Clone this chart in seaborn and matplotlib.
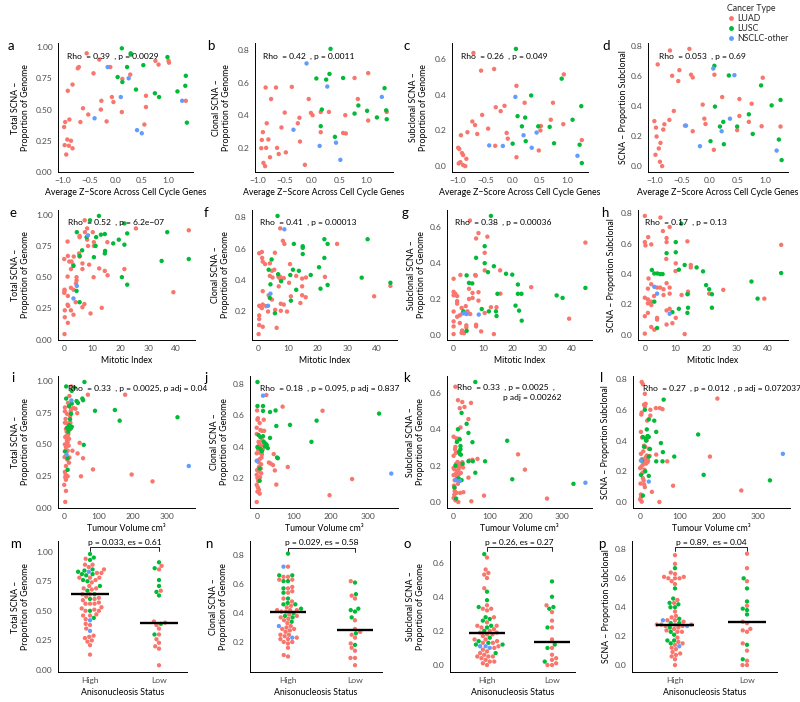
import numpy as np
import pandas as pd
import matplotlib
matplotlib.use("Agg")
import matplotlib.pyplot as plt
import matplotlib.transforms as mtransforms
from matplotlib.lines import Line2D
import seaborn as sns

# ---------------------------------------------------------------- data
TYPE_ORDER = ["LUAD", "LUSC", "NSCLC-other"]
PALETTE = {"LUAD": "#F8766D", "LUSC": "#00BA38", "NSCLC-other": "#619CFF"}

# Row 1: average z-score across cell cycle genes
a_luad_x = [-0.55,-0.70,-0.72,-0.31,-0.10,-0.42,-0.82,-0.91,0.13,0.28,0.76,0.82,1.01,1.02,1.34,-0.27,-0.07,-0.04,0.58,0.58,-0.28,-0.62,-0.52,-0.67,-0.17,0.12,0.55,-0.88,-0.96,-0.98,-0.92,-0.85,-0.89,-0.97,-0.82,-0.94]
a_luad_y = [0.95,0.84,0.83,0.90,0.84,0.79,0.70,0.65,0.745,0.78,0.89,0.86,0.89,0.875,0.57,0.57,0.60,0.56,0.61,0.52,0.50,0.51,0.46,0.40,0.405,0.48,0.38,0.42,0.40,0.36,0.26,0.25,0.21,0.215,0.19,0.14]
a_lusc_x = [0.12,0.29,0.29,0.99,0.22,0.53,0.04,0.13,0.39,0.75,0.83,1.18,1.34,1.33,1.36]
a_lusc_y = [0.99,0.95,0.94,0.92,0.84,0.855,0.76,0.72,0.66,0.63,0.60,0.645,0.77,0.69,0.395]
a_oth_x = [-0.15,0.25,0.10,-0.40,0.41,0.50,1.27]
a_oth_y = [0.84,0.75,0.60,0.43,0.335,0.31,0.57]

b_luad_x = [-0.85,-0.66,-0.37,-0.75,-0.50,-0.06,-0.02,0.01,-0.23,-0.26,0.16,0.31,0.61,0.78,1.03,0.84,1.03,1.37,-0.83,-0.56,-0.22,0.16,0.57,0.62,-0.92,-0.80,-0.90,-0.93,-0.84,-0.64,-0.61,-0.48,-0.77,-0.89,-0.86,-0.13]
b_luad_y = [0.571,0.571,0.575,0.50,0.416,0.50,0.414,0.40,0.384,0.35,0.42,0.42,0.40,0.63,0.66,0.50,0.367,0.42,0.35,0.324,0.237,0.295,0.29,0.287,0.247,0.25,0.295,0.196,0.198,0.198,0.16,0.17,0.14,0.105,0.085,0.093]
b_lusc_x = [0.34,0.08,0.26,0.32,0.57,1.33,0.85,0.18,0.78,1.01,1.36,1.37,1.19,0.16,0.42]
b_lusc_y = [0.81,0.627,0.62,0.655,0.63,0.567,0.46,0.435,0.41,0.427,0.43,0.375,0.386,0.332,0.266]
b_oth_x = [-0.10,0.28,1.28,-0.34,0.14,0.44,0.52]
b_oth_y = [0.72,0.577,0.513,0.31,0.21,0.23,0.124]

c_luad_x = [-0.72,-0.58,-0.34,0.07,-0.31,-0.15,-0.22,-0.56,0.22,0.74,0.94,0.93,0.70,-0.74,-0.69,-0.65,-0.83,-0.45,-0.11,-0.09,-0.95,0.52,0.51,0.48,0.07,-0.32,1.27,-1.0,-0.98,-0.93,-0.91,-0.85,-0.96,-0.99,-0.91,-0.87]
c_luad_y = [0.634,0.535,0.544,0.45,0.33,0.338,0.308,0.287,0.355,0.355,0.514,0.235,0.26,0.25,0.23,0.18,0.19,0.21,0.186,0.154,0.173,0.225,0.20,0.088,0.05,0.114,0.146,0.103,0.096,0.073,0.062,0.041,0.022,0.015,0.006,0.0]
c_lusc_x = [0.06,0.90,1.26,0.34,0.09,0.23,0.17,0.47,0.68,1.10,0.0,0.24,0.76,1.23,1.27]
c_lusc_y = [0.657,0.49,0.336,0.396,0.28,0.272,0.223,0.223,0.22,0.26,0.126,0.14,0.128,0.12,0.017]
c_oth_x = [0.05,0.20,0.44,-0.43,-0.18,0.35,1.19]
c_oth_y = [0.388,0.173,0.188,0.116,0.113,0.103,0.058]

d_luad_x = [-0.72,-0.37,-0.94,-0.68,-0.55,-0.57,-0.34,-0.31,0.08,0.95,-0.13,0.22,0.53,0.75,-0.10,-0.08,-0.65,-0.73,-1.0,-0.82,-0.97,-0.84,0.53,0.70,0.93,1.27,-0.45,-0.31,0.49,-0.96,0.07,-0.92,-0.89,-0.98,-0.90,-0.86]
d_luad_y = [0.767,0.778,0.675,0.60,0.637,0.565,0.607,0.589,0.607,0.587,0.409,0.459,0.446,0.415,0.316,0.281,0.367,0.308,0.30,0.279,0.257,0.244,0.334,0.295,0.266,0.264,0.27,0.233,0.24,0.198,0.11,0.119,0.156,0.077,0.031,0.002]
d_lusc_x = [0.08,0.34,0.92,1.27,1.11,0.09,0.70,0.18,0.49,0.24,0.77,0.01,0.25,1.24,1.29]
d_lusc_y = [0.666,0.602,0.536,0.44,0.404,0.396,0.345,0.264,0.264,0.295,0.215,0.167,0.147,0.178,0.042]
d_oth_x = [0.06,0.44,-0.43,0.36,0.21,-0.18,1.20]
d_oth_y = [0.648,0.604,0.27,0.316,0.233,0.134,0.105]

# Row 2: mitotic index  (x, y) pairs
e_luad = [(7.3,0.955),(8.2,0.89),(5.5,0.83),(5.5,0.82),(7.4,0.86),(10.2,0.86),(8.2,0.80),(10.6,0.78),(15.4,0.78),(25.6,0.89),(44.5,0.875),(1.2,0.785),(10.6,0.75),(8.5,0.75),(5.3,0.69),(5.5,0.665),(1.3,0.67),(3.4,0.665),(0,0.645),(1.8,0.625),(2.6,0.625),(6.5,0.61),(8.9,0.60),(3.2,0.60),(2.4,0.565),(6.5,0.565),(12.5,0.57),(21.5,0.565),(14.5,0.55),(15.5,0.515),(1.2,0.505),(4.4,0.50),(4.4,0.475),(10.5,0.50),(4.2,0.45),(2.4,0.415),(3.3,0.40),(0.1,0.40),(0.1,0.39),(0,0.375),(1.3,0.35),(39,0.38),(1.2,0.28),(1.4,0.27),(4.1,0.30),(7.2,0.285),(6.5,0.26),(13.4,0.255),(0.2,0.235),(2.4,0.235),(3.3,0.20),(9.4,0.21),(0.2,0.18),(1.3,0.135),(0.1,0.045)]
e_lusc = [(12.4,0.99),(9.2,0.955),(21.5,0.93),(4.5,0.86),(8.0,0.82),(11.4,0.82),(13.1,0.84),(14.5,0.845),(17.5,0.77),(19.5,0.80),(21.5,0.76),(22.5,0.85),(36.8,0.86),(11.2,0.75),(14.6,0.71),(14.5,0.69),(6.4,0.715),(10.6,0.66),(3.3,0.59),(34.8,0.63),(44.5,0.645),(20.6,0.50),(22.5,0.44),(4.4,0.39),(5.5,0.30),(5.5,0.67)]
e_oth = [(8.5,0.835),(4.5,0.43),(3.3,0.33)]

f_luad = [(7.3,0.73),(8.2,0.65),(8.7,0.63),(26.5,0.63),(0.2,0.57),(1.1,0.578),(5.5,0.573),(1.2,0.54),(1.4,0.516),(2.2,0.50),(3.8,0.505),(4.5,0.457),(5.3,0.464),(10.6,0.50),(3.8,0.424),(4.7,0.414),(6.7,0.418),(7.3,0.418),(7.1,0.41),(8.5,0.41),(7.5,0.40),(12.7,0.424),(16,0.414),(22.4,0.418),(14.7,0.407),(44.5,0.36),(1.4,0.326),(6.8,0.357),(14.7,0.357),(14.7,0.30),(15.9,0.287),(10.9,0.293),(3.4,0.30),(4.5,0.272),(14.1,0.25),(0.2,0.232),(1.4,0.24),(7.5,0.245),(8.5,0.24),(1.1,0.217),(3.2,0.195),(5.6,0.206),(7.5,0.20),(9.6,0.195),(0.2,0.17),(0.2,0.147),(0.2,0.108),(1.4,0.097),(6.1,0.09),(0,0.05),(39,0.293),(10.3,0.38),(2.5,0.23),(0.8,0.225)]
f_lusc = [(6.4,0.81),(11.9,0.63),(14.9,0.615),(14.9,0.605),(22.2,0.66),(23.3,0.63),(36.8,0.66),(14.9,0.565),(22.2,0.54),(3.4,0.464),(4.4,0.53),(11.6,0.464),(13.6,0.457),(6.6,0.435),(10.7,0.43),(17.6,0.43),(20.4,0.48),(34.8,0.413),(44.5,0.38),(4.0,0.37),(7.6,0.39),(12.7,0.335),(20.9,0.342),(23.3,0.366),(3.8,0.282),(10.9,0.265),(5.5,0.184)]
f_oth = [(8.7,0.724),(3.2,0.232),(4.0,0.31)]

g_luad = [(5.5,0.638),(8.4,0.568),(7.6,0.538),(11.4,0.548),(44.5,0.515),(10.5,0.458),(10.5,0.36),(15.7,0.36),(7.3,0.334),(2.3,0.334),(0,0.313),(26.2,0.266),(39,0.09),(5.2,0.257),(0,0.24),(0.6,0.229),(0,0.221),(6.4,0.234),(8.4,0.238),(15.8,0.23),(1.2,0.216),(5.2,0.20),(6.4,0.206),(1.2,0.188),(1.2,0.174),(8.4,0.191),(4.1,0.16),(2.7,0.15),(12.6,0.154),(14.5,0.154),(0,0.13),(4.7,0.131),(5.6,0.116),(10.5,0.122),(2.1,0.109),(1.2,0.101),(0,0.075),(2.1,0.066),(4.3,0.053),(4.3,0.041),(7.6,0.056),(7.6,0.047),(0,0.047),(2.9,0.024),(2.7,0.011),(3.5,0.009),(0,0.004),(9.3,0.019),(13.6,0.004),(7.5,0.33),(3,0.12)]
g_lusc = [(12.6,0.664),(10.5,0.495),(7.6,0.43),(10.5,0.40),(13.6,0.383),(11.6,0.35),(17.7,0.341),(19.8,0.336),(4.4,0.332),(5.2,0.29),(6.3,0.287),(21.7,0.281),(34.8,0.22),(36.8,0.206),(44.5,0.262),(14.8,0.229),(21.7,0.229),(22.9,0.229),(20.9,0.163),(22.1,0.135),(9.5,0.144),(11.9,0.131),(14.3,0.131),(14.5,0.105),(3.3,0.131),(23,0.079),(4.4,0.022)]
g_oth = [(4.4,0.116),(8.5,0.113),(3.5,0.12)]

h_luad = [(0,0.784),(5.1,0.773),(8.1,0.711),(5.9,0.684),(1.1,0.644),(0,0.611),(0.2,0.589),(2.1,0.596),(7.1,0.638),(7.1,0.611),(13.9,0.616),(44.5,0.593),(7,0.50),(10.1,0.471),(15,0.46),(15,0.444),(1.2,0.371),(2.1,0.333),(7.1,0.34),(6.1,0.30),(4.0,0.311),(5.0,0.311),(8.1,0.311),(1.0,0.304),(25.6,0.296),(21,0.271),(14.1,0.284),(14.1,0.271),(12,0.262),(6.1,0.262),(8.1,0.271),(0,0.244),(1.0,0.233),(2.1,0.218),(1.0,0.207),(2.1,0.196),(39,0.238),(8.1,0.171),(7.1,0.16),(1.0,0.144),(0,0.122),(4,0.111),(4,0.10),(10.1,0.111),(2.1,0.051),(3.1,0.033),(7.1,0.067),(9,0.076),(0,0.007),(13,0.004),(10,0.42),(3,0.255)]
h_lusc = [(11.9,0.733),(10.1,0.611),(10.1,0.544),(7.1,0.538),(2.3,0.427),(3.1,0.404),(13,0.46),(16.9,0.444),(19,0.418),(11.1,0.429),(4.1,0.404),(5.0,0.40),(5.8,0.40),(34.8,0.351),(44.5,0.407),(20,0.327),(21,0.30),(21.9,0.267),(13.9,0.267),(3.1,0.218),(36.8,0.238),(21.9,0.178),(14.1,0.178),(13.9,0.144),(11.1,0.171),(9.0,0.149),(4,0.044)]
h_oth = [(3.1,0.316),(4.0,0.271),(8.1,0.138)]

# Row 3: tumour volume (x, y) pairs
i_luad = [(21,0.955),(15,0.88),(69,0.89),(178,0.89),(11,0.826),(27,0.785),(33,0.78),(2,0.79),(2,0.76),(38,0.745),(19,0.76),(2,0.67),(10,0.665),(12,0.638),(5,0.62),(3,0.557),(10,0.57),(14,0.544),(10,0.517),(5,0.477),(45,0.512),(24,0.45),(10,0.45),(39,0.429),(55,0.391),(15,0.397),(14,0.356),(5,0.33),(84,0.303),(2,0.284),(4,0.263),(3,0.241),(10,0.249),(49,0.249),(197,0.263),(258,0.209),(5,0.222),(0,0.182),(5,0.134),(3,0.048),(7,0.60),(12,0.58),(16,0.62),(8,0.53),(2,0.50),(13,0.49),(6,0.41),(9,0.38),(4,0.70),(17,0.72),(1,0.40),(18,0.67),(6,0.565),(20,0.78),(8,0.74)]
i_lusc = [(59,0.99),(5.7,0.955),(22,0.92),(30,0.946),(5.7,0.86),(14,0.80),(22,0.82),(36,0.84),(40,0.826),(53,0.86),(55,0.847),(90,0.764),(148,0.77),(162,0.686),(331,0.713),(17,0.697),(15,0.65),(19,0.625),(22,0.638),(57,0.496),(2,0.445),(10,0.391),(10,0.30),(12,0.60),(8,0.63),(20,0.74)]
i_oth = [(21,0.845),(7,0.42),(364,0.33)]

j_luad = [(26,0.728),(70,0.654),(2,0.571),(19,0.571),(178,0.628),(0,0.52),(10,0.505),(14,0.50),(0,0.48),(5,0.43),(10,0.407),(0,0.357),(46,0.352),(8,0.32),(33,0.298),(38,0.291),(44,0.282),(12,0.287),(84,0.27),(5,0.243),(49,0.248),(0,0.22),(2,0.2),(258,0.193),(53,0.158),(0,0.156),(2,0.113),(8,0.10),(197,0.09),(0,0.047),(3,0.40),(7,0.42),(15,0.44),(4,0.38),(9,0.36),(13,0.33),(2,0.31),(6,0.27),(11,0.26),(1,0.25),(4,0.18),(3,0.14),(6,0.125),(16,0.38),(20,0.50),(8,0.55),(3,0.58),(1,0.63),(12,0.23),(5,0.30),(9,0.205),(14,0.35),(22,0.42),(18,0.41)]
j_lusc = [(2,0.811),(2,0.658),(17,0.658),(51,0.63),(36,0.62),(17,0.627),(331,0.61),(90,0.538),(53,0.531),(5,0.473),(10,0.46),(17,0.466),(36,0.455),(148,0.43),(19,0.43),(24,0.418),(27,0.41),(2,0.396),(10,0.385),(30,0.39),(55,0.33),(57,0.326),(8,0.26),(8,0.182),(162,0.565),(22,0.40),(14,0.37)]
j_oth = [(17,0.724),(0,0.309),(364,0.228)]

k_luad = [(5,0.634),(12,0.56),(24,0.55),(48,0.545),(17,0.516),(30,0.523),(41,0.456),(19,0.41),(0,0.359),(15,0.348),(10,0.337),(5,0.303),(178,0.262),(0,0.254),(66,0.237),(52,0.232),(43,0.228),(24,0.219),(22,0.209),(12,0.194),(0,0.187),(19,0.198),(197,0.178),(26,0.19),(5,0.153),(15,0.153),(0,0.148),(41,0.134),(12,0.1),(3,0.078),(3,0.06),(8,0.05),(27,0.054),(84,0.035),(0,0.022),(5,0.009),(49,0.004),(258,0.019),(7,0.21),(10,0.17),(3,0.12),(14,0.18),(2,0.04),(9,0.14),(6,0.27),(20,0.16),(1,0.09),(11,0.22),(4,0.29),(16,0.21),(8,0.35),(13,0.0),(2,0.18),(18,0.05)]
k_lusc = [(60,0.66),(22,0.49),(36,0.43),(12,0.40),(41,0.38),(17,0.344),(148,0.337),(52,0.329),(19,0.308),(19,0.29),(15,0.277),(17,0.265),(87,0.224),(41,0.224),(53,0.224),(5,0.2),(60,0.161),(10,0.125),(22,0.12),(162,0.125),(331,0.10),(7,0.019),(20,0.26),(14,0.13),(25,0.21),(2,0.08),(9,0.33)]
k_oth = [(17,0.116),(364,0.106),(6,0.12)]

l_luad = [(4,0.782),(7,0.767),(12,0.705),(197,0.674),(10,0.634),(12,0.623),(4,0.583),(26,0.563),(40,0.612),(50,0.612),(57,0.605),(26,0.601),(2,0.457),(17,0.402),(10,0.367),(22,0.347),(2,0.314),(41,0.309),(178,0.296),(17,0.303),(69,0.265),(7,0.243),(12,0.258),(0,0.221),(7,0.155),(84,0.106),(10,0.115),(12,0.097),(30,0.066),(2,0.049),(258,0.075),(0,0.016),(49,0.0),(4,0.002),(5,0.28),(9,0.27),(14,0.29),(19,0.26),(3,0.23),(8,0.33),(15,0.25),(6,0.19),(11,0.21),(1,0.12),(20,0.27),(13,0.36),(3,0.57),(16,0.285),(24,0.30),(9,0.14),(2,0.03),(5,0.42),(18,0.53),(14,0.64)]
l_lusc = [(60,0.667),(12,0.601),(22,0.539),(36,0.53),(17,0.473),(7,0.424),(14,0.413),(22,0.424),(41,0.457),(148,0.44),(53,0.384),(58,0.325),(87,0.296),(22,0.296),(41,0.265),(57,0.265),(2,0.177),(162,0.177),(22,0.17),(331,0.141),(7,0.042),(15,0.40),(19,0.43),(10,0.36),(25,0.345),(4,0.27),(13,0.2)]
l_oth = [(364,0.314),(2,0.27),(22,0.133)]

# Row 4: anisonucleosis status (y values)
m_high_luad = [0.94,0.89,0.89,0.87,0.85,0.82,0.82,0.78,0.78,0.78,0.76,0.74,0.71,0.69,0.69,0.68,0.64,0.64,0.62,0.61,0.60,0.59,0.57,0.56,0.56,0.56,0.53,0.52,0.50,0.50,0.51,0.47,0.46,0.46,0.43,0.39,0.38,0.35,0.28,0.27,0.29,0.25,0.24,0.21,0.13]
m_high_lusc = [0.98,0.95,0.93,0.85,0.84,0.83,0.81,0.80,0.81,0.76,0.75,0.71,0.67,0.64,0.60,0.50,0.44]
m_high_oth = [0.83,0.42,0.33]
m_low_luad = [0.88,0.85,0.67,0.41,0.38,0.35,0.30,0.26,0.23,0.20,0.18,0.04,0.40]
m_low_lusc = [0.91,0.86,0.76,0.71,0.66,0.63,0.39,0.30]
m_low_oth = []
m_median = [0.64, 0.40]

n_high_luad = [0.72,0.65,0.65,0.63,0.63,0.57,0.58,0.55,0.54,0.50,0.48,0.45,0.42,0.42,0.42,0.41,0.41,0.39,0.37,0.36,0.35,0.33,0.30,0.29,0.29,0.25,0.25,0.24,0.23,0.22,0.22,0.20,0.20,0.19,0.16,0.11,0.10,0.31,0.28,0.44,0.38,0.27]
n_high_lusc = [0.81,0.66,0.66,0.62,0.62,0.57,0.54,0.50,0.46,0.46,0.47,0.43,0.40,0.37,0.38,0.34]
n_high_oth = [0.72,0.31,0.23]
n_low_luad = [0.62,0.52,0.50,0.35,0.29,0.27,0.25,0.23,0.19,0.16,0.14,0.09,0.09,0.04]
n_low_lusc = [0.61,0.53,0.43,0.42,0.41,0.37,0.26,0.18]
n_low_oth = []
n_median = [0.41, 0.28]

o_high_luad = [0.63,0.56,0.54,0.53,0.51,0.45,0.35,0.33,0.33,0.32,0.28,0.25,0.23,0.23,0.21,0.20,0.19,0.18,0.18,0.19,0.15,0.15,0.14,0.13,0.13,0.11,0.10,0.09,0.08,0.07,0.06,0.05,0.05,0.05,0.04,0.03,0.02,0.02,0.0,0.01,0.17,0.22]
o_high_lusc = [0.65,0.43,0.38,0.34,0.28,0.27,0.26,0.22,0.23,0.20,0.16,0.14,0.13,0.12,0.12,0.07]
o_high_oth = [0.11,0.10,0.11]
o_low_luad = [0.35,0.31,0.26,0.22,0.15,0.10,0.06,0.04,0.03,0.01,0.0,0.0]
o_low_lusc = [0.49,0.40,0.33,0.34,0.22,0.12,0.10,0.02]
o_low_oth = []
o_median = [0.185, 0.135]

p_high_luad = [0.76,0.70,0.64,0.63,0.61,0.60,0.60,0.60,0.61,0.58,0.56,0.45,0.43,0.37,0.33,0.34,0.31,0.31,0.30,0.28,0.28,0.27,0.28,0.27,0.25,0.28,0.23,0.23,0.19,0.16,0.15,0.14,0.12,0.11,0.09,0.07,0.08,0.06,0.04,0.0,0.24,0.26]
p_high_lusc = [0.67,0.53,0.46,0.42,0.43,0.40,0.40,0.32,0.29,0.29,0.26,0.23,0.21,0.17,0.17,0.15]
p_high_oth = [0.31,0.27,0.13]
p_low_luad = [0.77,0.67,0.58,0.41,0.30,0.29,0.25,0.24,0.23,0.15,0.10,0.03,0.0,0.0]
p_low_lusc = [0.60,0.53,0.44,0.39,0.38,0.35,0.14,0.04]
p_low_oth = []
p_median = [0.28, 0.297]

# labels / texts
XLAB_Z = "Average Z\u2212Score Across Cell Cycle Genes"
XLAB_MIT = "Mitotic Index"
XLAB_VOL = "Tumour Volume cm\u00b3"
XLAB_ANI = "Anisonucleosis Status"
YLAB_TOT = "Total SCNA \u2013\nProportion of Genome"
YLAB_CLO = "Clonal SCNA \u2013\nProportion of Genome"
YLAB_SUB = "Subclonal SCNA \u2013\nProportion of Genome"
YLAB_PROP = "SCNA \u2013 Proportion Subclonal"

STAT_TEXT = {
    "a": "Rho  = 0.39  , p = 0.0029", "b": "Rho  = 0.42  , p = 0.0011",
    "c": "Rho  = 0.26  , p = 0.049", "d": "Rho  = 0.053  , p = 0.69",
    "e": "Rho  = 0.52  , p = 6.2e\u221207", "f": "Rho  = 0.41  , p = 0.00013",
    "g": "Rho  = 0.38  , p = 0.00036", "h": "Rho  = 0.17  , p = 0.13",
    "i": "Rho  = 0.33  , p = 0.0025, p adj = 0.04",
    "j": "Rho  = 0.18  , p = 0.095, p adj = 0.837",
    "k": "Rho  = 0.33  , p = 0.0025  ,",
    "l": "Rho  = 0.27  , p = 0.012  , p adj = 0.072037",
    "m": "p = 0.033, es = 0.61", "n": "p = 0.029, es = 0.58",
    "o": "p = 0.26, es = 0.27", "p": "p = 0.89,  es = 0.04",
}
K_SECOND = "p adj = 0.00262"

Y_TOT = ([0, 0.25, 0.5, 0.75, 1.0], ["0.00", "0.25", "0.50", "0.75", "1.00"])
Y_CLO = ([0.2, 0.4, 0.6, 0.8], ["0.2", "0.4", "0.6", "0.8"])
Y_SUB = ([0, 0.2, 0.4, 0.6], ["0.0", "0.2", "0.4", "0.6"])
Y_PROP = ([0, 0.2, 0.4, 0.6, 0.8], ["0.0", "0.2", "0.4", "0.6", "0.8"])
X_Z = ([-1, -0.5, 0, 0.5, 1], ["\u22121.0", "\u22120.5", "0.0", "0.5", "1.0"])
X_MIT = ([0, 10, 20, 30, 40], ["0", "10", "20", "30", "40"])
X_VOL = ([0, 100, 200, 300], ["0", "100", "200", "300"])

# ---------------------------------------------------------------- style
sns.set_style("white")
plt.rcParams["font.family"] = ["Lato", "DejaVu Sans"]

W, H = 800, 702
fig = plt.figure(figsize=(W / 100, H / 100), dpi=100)
fig.patch.set_facecolor("white")

FS_TICK = 6.1
FS_LAB = 6.3
FS_TXT = 6.1


def add_axes(l, r, t, b):
    return fig.add_axes([l / W, 1 - b / H, (r - l) / W, (b - t) / H])


def style(ax):
    sns.despine(ax=ax)
    for s in ["left", "bottom"]:
        ax.spines[s].set_linewidth(0.7)
        ax.spines[s].set_color("black")
    ax.tick_params(length=2.2, width=0.5, pad=1.5, labelsize=FS_TICK,
                   labelcolor="#4D4D4D", color="#333333")
    ax.grid(False)


def frame_xy(luad, lusc, oth):
    rows = [(x, y, t) for pts, t in ((luad, "LUAD"), (lusc, "LUSC"), (oth, "NSCLC-other"))
            for x, y in pts]
    return pd.DataFrame(rows, columns=["x", "y", "type"])


def fig_text(x, y, s, **kw):
    fig.text(x / W, 1 - y / H, s, **kw)


def label_axes(ax, box, ylab_right, xlab, ylab):
    l, r, t, b = box
    ax.set_xlabel(xlab, fontsize=FS_LAB, labelpad=2.5, color="black")
    ax.set_ylabel(ylab, fontsize=FS_LAB, color="black", linespacing=1.15)
    ax.yaxis.set_label_coords((ylab_right - l) / (r - l), 0.5)


LETTER_POS = {"a": (8, 50), "b": (207, 50), "c": (403, 50), "d": (602, 50),
              "e": (10, 217), "f": (204, 217), "g": (402, 217), "h": (601, 217),
              "i": (11, 382), "j": (204, 382), "k": (403, 382), "l": (600, 382),
              "m": (10, 548), "n": (205, 548), "o": (403, 548), "p": (598, 548)}

scatter_specs = [
    ("a", frame_xy(list(zip(a_luad_x, a_luad_y)), list(zip(a_lusc_x, a_lusc_y)), list(zip(a_oth_x, a_oth_y))),
     (58, 193, 43, 172), 30, X_Z, Y_TOT, XLAB_Z, YLAB_TOT, (67, 56)),
    ("b", frame_xy(list(zip(b_luad_x, b_luad_y)), list(zip(b_lusc_x, b_lusc_y)), list(zip(b_oth_x, b_oth_y))),
     (255, 393, 43, 172), 231, X_Z, Y_CLO, XLAB_Z, YLAB_CLO, (263, 56)),
    ("c", frame_xy(list(zip(c_luad_x, c_luad_y)), list(zip(c_lusc_x, c_lusc_y)), list(zip(c_oth_x, c_oth_y))),
     (452, 588, 43, 172), 428, X_Z, Y_SUB, XLAB_Z, YLAB_SUB, (461, 56)),
    ("d", frame_xy(list(zip(d_luad_x, d_luad_y)), list(zip(d_lusc_x, d_lusc_y)), list(zip(d_oth_x, d_oth_y))),
     (648, 788, 43, 172), 628, X_Z, Y_PROP, XLAB_Z, YLAB_PROP, (659, 56)),
    ("e", frame_xy(e_luad, e_lusc, e_oth), (58, 195, 210, 340), 30, X_MIT, Y_TOT, XLAB_MIT, YLAB_TOT, (68, 222)),
    ("f", frame_xy(f_luad, f_lusc, f_oth), (252, 397, 210, 340), 230, X_MIT, Y_CLO, XLAB_MIT, YLAB_CLO, (260, 222)),
    ("g", frame_xy(g_luad, g_lusc, g_oth), (447, 592, 210, 340), 426, X_MIT, Y_SUB, XLAB_MIT, YLAB_SUB, (455, 222)),
    ("h", frame_xy(h_luad, h_lusc, h_oth), (638, 788, 210, 340), 616, X_MIT, Y_PROP, XLAB_MIT, YLAB_PROP, (645, 222)),
    ("i", frame_xy(i_luad, i_lusc, i_oth), (58, 195, 376, 508), 30, X_VOL, Y_TOT, XLAB_VOL, YLAB_TOT, (68, 388)),
    ("j", frame_xy(j_luad, j_lusc, j_oth), (250, 398, 376, 508), 229, X_VOL, Y_CLO, XLAB_VOL, YLAB_CLO, (260, 388)),
    ("k", frame_xy(k_luad, k_lusc, k_oth), (447, 592, 376, 508), 425, X_VOL, Y_SUB, XLAB_VOL, YLAB_SUB, (457, 387)),
    ("l", frame_xy(l_luad, l_lusc, l_oth), (633, 790, 376, 508), 610, X_VOL, Y_PROP, XLAB_VOL, YLAB_PROP, (643, 388)),
]

for letter, df, box, ylab_right, xt, yt, xlab, ylab, tpos in scatter_specs:
    ax = add_axes(*box)
    sns.scatterplot(data=df, x="x", y="y", hue="type", hue_order=TYPE_ORDER,
                    palette=PALETTE, s=10, linewidth=0, legend=False, ax=ax)
    ax.margins(0.05)
    ax.set_xticks(xt[0])
    ax.set_xticklabels(xt[1])
    ax.set_yticks(yt[0])
    ax.set_yticklabels(yt[1])
    style(ax)
    label_axes(ax, box, ylab_right, xlab, ylab)
    fig_text(*tpos, STAT_TEXT[letter], fontsize=FS_TXT, va="center", ha="left", color="black")
    if letter == "k":
        fig_text(503, 398, K_SECOND, fontsize=FS_TXT, va="center", ha="left", color="black")

swarm_specs = [
    ("m", (m_high_luad, m_high_lusc, m_high_oth, m_low_luad, m_low_lusc, m_low_oth), m_median,
     (58, 187, 541, 672), (90, 159), 30, Y_TOT, YLAB_TOT, (-0.017, 1.09), (547, 551, 542)),
    ("n", (n_high_luad, n_high_lusc, n_high_oth, n_low_luad, n_low_lusc, n_low_oth), n_median,
     (250, 382, 541, 672), (288, 355), 228, Y_CLO, YLAB_CLO, (-0.007, 0.897), (548, 552, 542)),
    ("o", (o_high_luad, o_high_lusc, o_high_oth, o_low_luad, o_low_lusc, o_low_oth), o_median,
     (450, 575, 541, 672), (487, 552), 425, Y_SUB, YLAB_SUB, (-0.041, 0.727), (547, 551, 542)),
    ("p", (p_high_luad, p_high_lusc, p_high_oth, p_low_luad, p_low_lusc, p_low_oth), p_median,
     (632, 777, 541, 672), (675, 747), 611, Y_PROP, YLAB_PROP, (-0.048, 0.858), (547, 551, 542)),
]

for letter, groups, med, box, cat_px, ylab_right, yt, ylab, ylim, brk in swarm_specs:
    l, r, t, b = box
    rows = []
    for (vals, cat, typ) in zip(groups, ["High"] * 3 + ["Low"] * 3, TYPE_ORDER * 2):
        rows += [(cat, v, typ) for v in vals]
    df = pd.DataFrame(rows, columns=["status", "y", "type"])
    ax = add_axes(*box)
    sns.swarmplot(data=df, x="status", y="y", hue="type", order=["High", "Low"],
                  hue_order=TYPE_ORDER, palette=PALETTE, size=3.1, linewidth=0,
                  legend=False, ax=ax, warn_thresh=1.0)
    unit = (cat_px[1] - cat_px[0])
    ax.set_xlim((l - cat_px[0]) / unit, (r - cat_px[0]) / unit)
    ax.set_ylim(*ylim)
    ax.hlines(med, [-0.27, 0.73], [0.27, 1.27], color="black", lw=1.7, zorder=5)
    ax.set_yticks(yt[0])
    ax.set_yticklabels(yt[1])
    style(ax)
    label_axes(ax, box, ylab_right, XLAB_ANI, ylab)
    # significance bracket
    y_line = (b - brk[0]) / (b - t)
    y_tick = (b - brk[1]) / (b - t)
    tr = mtransforms.blended_transform_factory(ax.transData, ax.transAxes)
    ax.plot([0, 0, 1, 1], [y_tick, y_line, y_line, y_tick], color="black", lw=0.6,
            transform=tr, clip_on=False)
    ax.text(0.5, (b - brk[2]) / (b - t), STAT_TEXT[letter], transform=tr,
            ha="center", va="center", fontsize=FS_TXT, color="black")

for letter, (x, y) in LETTER_POS.items():
    fig_text(x, y, letter, fontsize=9.5, va="baseline", ha="left", color="black")

# legend
handles = [Line2D([], [], marker="o", ls="", markersize=3.5, markerfacecolor=PALETTE[t],
                  markeredgewidth=0) for t in TYPE_ORDER]
leg = fig.legend(handles, TYPE_ORDER, title="Cancer Type", loc="upper left",
                 bbox_to_anchor=(727 / W, 1 - 4 / H), frameon=False, fontsize=6.3,
                 title_fontsize=6.3, handlelength=0.9, handletextpad=0.3,
                 labelspacing=0.12, borderpad=0, borderaxespad=0, alignment="left")

fig.savefig("out.png", dpi=100, facecolor="white")
